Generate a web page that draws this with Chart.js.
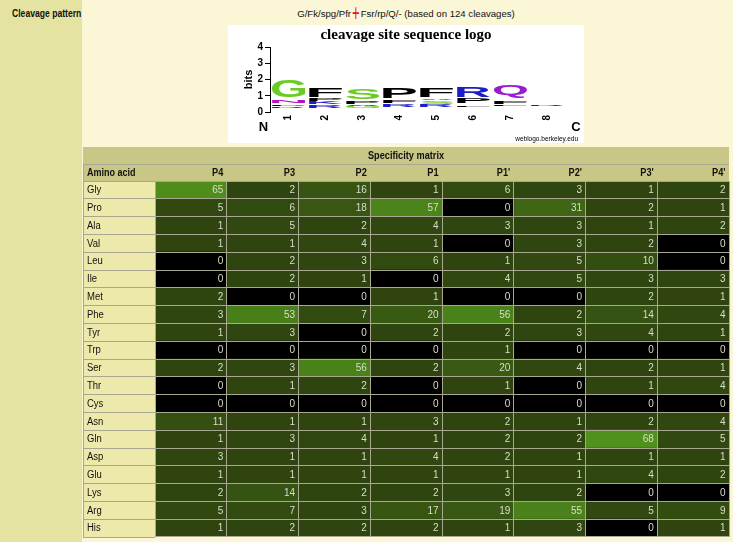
<!DOCTYPE html>
<html><head><meta charset="utf-8">
<script src="https://cdn.jsdelivr.net/npm/chart.js@4.4.1/dist/chart.umd.min.js"></script>
<style>
html,body{margin:0;padding:0;}
body{width:733px;height:542px;overflow:hidden;position:relative;background:#fbf6d6;font-family:"Liberation Sans",Arial,Helvetica,sans-serif;color:#111;}
#leftcol{position:absolute;left:0;top:0;width:82px;height:542px;background:#e5e3a1;}
#lefttxt{position:absolute;left:12px;top:8px;font-size:10px;font-weight:bold;line-height:11px;white-space:nowrap;transform-origin:0 50%;transform:scaleX(0.86);}
#pattern{position:absolute;left:83px;top:7px;width:646px;text-align:center;font-size:9.6px;line-height:12px;white-space:nowrap;}
#pattern .cut{display:inline-block;color:#e8141c;font-size:13px;line-height:12px;transform:scaleY(1.9);margin:0 1px;}
#logoBox{position:absolute;left:228px;top:25px;width:356px;height:118px;background:#fff;}
#matBox{position:absolute;left:83px;top:147px;width:650px;height:395px;}
canvas{display:block;}
</style></head>
<body>
<div id="leftcol"></div><div id="lefttxt">Cleavage pattern</div>
<div id="pattern">G/Fk/spg/Pfr<span class="cut">+</span>Fsr/rp/Q/- (based on 124 cleavages)</div>
<div id="logoBox"><canvas id="logo" width="356" height="118"></canvas></div>
<div id="matBox"><canvas id="mat" width="650" height="395"></canvas></div>
<script>
// ---------- data ----------
const aminoAcids = ['Gly','Pro','Ala','Val','Leu','Ile','Met','Phe','Tyr','Trp','Ser','Thr','Cys','Asn','Gln','Asp','Glu','Lys','Arg','His'];
const positions = ['P4','P3','P2','P1',"P1'","P2'","P3'","P4'"];
const P4  = [65,5,1,1,0,0,2,3,1,0,2,0,0,11,1,3,1,2,5,1];
const P3  = [2,6,5,1,2,2,0,53,3,0,3,1,0,1,3,1,1,14,7,2];
const P2  = [16,18,2,4,3,1,0,7,0,0,56,2,0,1,4,1,1,2,3,2];
const P1  = [1,57,4,1,6,0,1,20,2,0,2,0,0,3,1,4,1,2,17,2];
const P1p = [6,0,3,0,1,4,0,56,2,1,20,1,0,2,2,2,1,3,19,1];
const P2p = [3,31,3,3,5,5,0,2,3,0,4,0,0,1,2,1,1,2,55,3];
const P3p = [1,2,1,2,10,3,2,14,4,0,2,1,0,2,68,1,4,0,5,0];
const P4p = [2,1,2,0,0,3,1,4,1,0,1,4,0,4,5,1,2,0,9,1];
const columns = [P4,P3,P2,P1,P1p,P2p,P3p,P4p];

// sequence logo: per position [letter, low bits, high bits]
const logoTicks = ['1','2','3','4','5','6','7','8'];
const logo1 = [['R',0.22,0.31],['P',0.37,0.47],['N',0.55,0.67],['G',0.92,1.94]];
const logo2 = [['R',0.24,0.36],['K',0.50,0.64],['P',0.70,0.82],['F',0.90,1.42]];
const logo3 = [['G',0.22,0.34],['A',0.38,0.46],['P',0.52,0.68],['S',0.78,1.40]];
const logo4 = [['R',0.28,0.44],['F',0.54,0.68],['P',0.86,1.48]];
const logo5 = [['R',0.28,0.44],['S',0.52,0.68],['A',0.74,0.84],['F',0.92,1.48]];
const logo6 = [['L',0.32,0.42],['P',0.54,0.84],['R',0.92,1.58]];
const logo7 = [['L',0.38,0.46],['F',0.52,0.68],['Q',0.84,1.68]];
const logo8 = [['R',0.37,0.42]];
const logoStacks = [logo1,logo2,logo3,logo4,logo5,logo6,logo7,logo8];

// ---------- helpers ----------
const FONT = '"Liberation Sans", Arial, Helvetica, sans-serif';
function cellColor(v){
  if (v === 0) return '#000000';
  const t = v / 68;
  return 'rgb(' + Math.round(46 + t*34) + ',' + Math.round(67 + t*77) + ',' + Math.round(15 + t*13) + ')';
}
function txt(ctx, s, x, y, align, font, color, sx){
  ctx.save(); ctx.font = font; ctx.fillStyle = color; ctx.textBaseline = 'middle'; ctx.textAlign = align;
  ctx.translate(x, y); ctx.scale(sx || 1, 1); ctx.fillText(s, 0, 0); ctx.restore();
}
function al(p){ return Math.round(p - 0.5) + 0.5; }
const letterColor = {G:'#68cc24',S:'#68cc24',T:'#68cc24',Y:'#68cc24',C:'#68cc24',N:'#b214c0',Q:'#9a1ccc',K:'#1c1cc8',R:'#1c1cc8',H:'#1c1cc8',D:'#cc1111',E:'#cc1111'};

// ---------- matrix chart ----------
const matDatasets = columns.map((col, c) => ({
  label: positions[c],
  data: col.map((v, i) => ({ y: aminoAcids[i], x: [c, c + 1], v: v })),
  backgroundColor: ctx => (ctx.raw ? cellColor(ctx.raw.v) : '#000'),
  borderWidth: 0,
  grouped: false,
  barPercentage: 1,
  categoryPercentage: 1
}));

const matrixDecor = {
  id: 'matrixDecor',
  afterDraw(chart){
    const ctx = chart.ctx, xs = chart.scales.x, ys = chart.scales.y, a = chart.chartArea;
    const W = a.right, hdrH = Math.round(a.top / 2);
    const rowH = (a.bottom - a.top) / aminoAcids.length;
    ctx.save();
    ctx.fillStyle = '#c9c785';
    ctx.fillRect(0, 0, W, a.top);
    aminoAcids.forEach((aa, i) => {
      const yc = ys.getPixelForValue(i);
      ctx.fillStyle = '#ede9ab';
      ctx.fillRect(0, yc - rowH/2, a.left, rowH);
    });
    ctx.strokeStyle = '#a8a792'; ctx.lineWidth = 1;
    ctx.beginPath();
    ctx.moveTo(0, al(hdrH)); ctx.lineTo(W, al(hdrH));
    for (let i = 0; i <= aminoAcids.length; i++){
      const y = al(a.top + i * rowH);
      ctx.moveTo(0, y); ctx.lineTo(a.left, y);
    }
    ctx.moveTo(0.5, hdrH); ctx.lineTo(0.5, a.bottom);
    ctx.stroke();
    // header texts
    txt(ctx, 'Specificity matrix', W/2, hdrH/2 + 0.5, 'center', 'bold 10px ' + FONT, '#111', 0.92);
    const hy = (hdrH + a.top) / 2 + 0.5;
    txt(ctx, 'Amino acid', 4, hy, 'left', 'bold 10px ' + FONT, '#111', 0.9);
    positions.forEach((p, c) => txt(ctx, p, xs.getPixelForValue(c + 1) - 3.5, hy, 'right', 'bold 10px ' + FONT, '#111', 0.92));
    // row labels
    aminoAcids.forEach((aa, i) => txt(ctx, aa, 4, ys.getPixelForValue(i) + 0.5, 'left', '10px ' + FONT, '#111', 0.95));
    // cell values
    chart.data.datasets.forEach(ds => {
      ds.data.forEach(d => {
        const i = aminoAcids.indexOf(d.y);
        txt(ctx, String(d.v), xs.getPixelForValue(d.x[1]) - 3.5, ys.getPixelForValue(i) + 0.5, 'right', '10px ' + FONT, '#dcdccc', 1);
      });
    });
    ctx.restore();
  }
};

new Chart(document.getElementById('mat'), {
  type: 'bar',
  data: { labels: aminoAcids, datasets: matDatasets },
  options: {
    indexAxis: 'y', responsive: false, animation: false, devicePixelRatio: 1,
    layout: { padding: { left: 72, top: 34, right: 4, bottom: 5 } },
    plugins: { legend: { display: false }, tooltip: { enabled: false } },
    scales: {
      x: { type: 'linear', position: 'top', min: 0, max: 8,
           ticks: { display: false, stepSize: 1 },
           grid: { color: '#a8a792', lineWidth: 1, drawTicks: false, z: 1 },
           border: { display: false },
           afterFit: s => { s.height = 0; } },
      y: { type: 'category', labels: aminoAcids, offset: true,
           ticks: { display: false },
           grid: { offset: true, color: '#a8a792', lineWidth: 1, drawTicks: false, z: 1 },
           border: { display: false },
           afterFit: s => { s.width = 0; } }
    }
  },
  plugins: [matrixDecor]
});

// ---------- sequence logo chart ----------
const maxLayers = Math.max(...logoStacks.map(s => s.length));
const logoDatasets = [];
for (let k = 0; k < maxLayers; k++){
  const data = [];
  logoStacks.forEach((st, j) => { if (st[k]) data.push({ x: logoTicks[j], y: [st[k][1], st[k][2]], letter: st[k][0] }); });
  logoDatasets.push({ data: data, backgroundColor: 'rgba(0,0,0,0)', borderWidth: 0, grouped: false, barPercentage: 1, categoryPercentage: 0.9 });
}

const logoLetters = {
  id: 'logoLetters',
  afterDatasetsDraw(chart){
    const ctx = chart.ctx;
    chart.data.datasets.forEach((ds, di) => {
      const meta = chart.getDatasetMeta(di);
      meta.data.forEach((el, j) => {
        const raw = ds.data[j];
        const p = el.getProps(['x','y','base','width'], true);
        const x0 = p.x - p.width/2, y0 = Math.min(p.y, p.base), w = p.width, h = Math.abs(p.base - p.y);
        ctx.save();
        ctx.font = 'bold 100px ' + FONT;
        const m = ctx.measureText(raw.letter);
        const gw = m.actualBoundingBoxLeft + m.actualBoundingBoxRight;
        const gh = m.actualBoundingBoxAscent + m.actualBoundingBoxDescent;
        ctx.translate(x0, y0); ctx.scale(w/gw, h/gh);
        ctx.fillStyle = letterColor[raw.letter] || '#000';
        ctx.textAlign = 'left'; ctx.textBaseline = 'alphabetic';
        ctx.fillText(raw.letter, m.actualBoundingBoxLeft, m.actualBoundingBoxAscent);
        ctx.restore();
      });
    });
  },
  afterDraw(chart){
    const ctx = chart.ctx;
    txt(ctx, 'cleavage site sequence logo', 178, 10.5, 'center', 'bold 15px "Liberation Serif", "Times New Roman", serif', '#000', 1);
    txt(ctx, 'N', 35.5, 102, 'center', 'bold 13px ' + FONT, '#000', 1);
    txt(ctx, 'C', 348, 102, 'center', 'bold 13px ' + FONT, '#000', 1);
    txt(ctx, 'weblogo.berkeley.edu', 350, 114, 'right', '6.5px ' + FONT, '#000', 1);
  }
};

new Chart(document.getElementById('logo'), {
  type: 'bar',
  data: { labels: logoTicks, datasets: logoDatasets },
  options: {
    responsive: false, animation: false, devicePixelRatio: 1,
    layout: { padding: { top: 22, right: 18, bottom: 0, left: 10 } },
    plugins: { legend: { display: false }, tooltip: { enabled: false } },
    scales: {
      x: { type: 'category', labels: logoTicks, offset: true,
           grid: { display: false, drawTicks: false }, border: { display: false },
           ticks: { color: '#000', font: { family: FONT, weight: 'bold', size: 10 }, minRotation: 90, maxRotation: 90, padding: 3, autoSkip: false },
           afterFit: s => { s.height = 31; } },
      y: { type: 'linear', min: 0, max: 4,
           ticks: { stepSize: 1, color: '#000', font: { family: FONT, weight: 'bold', size: 10 }, padding: 2 },
           grid: { display: true, drawOnChartArea: false, drawTicks: true, tickLength: 5, color: '#000' },
           border: { display: true, color: '#000' },
           title: { display: true, text: 'bits', color: '#000', font: { family: FONT, weight: 'bold', size: 11 }, padding: { top: 4, bottom: 0 } },
           afterFit: s => { s.width = 32; } }
    }
  },
  plugins: [logoLetters]
});
</script>
</body></html>
